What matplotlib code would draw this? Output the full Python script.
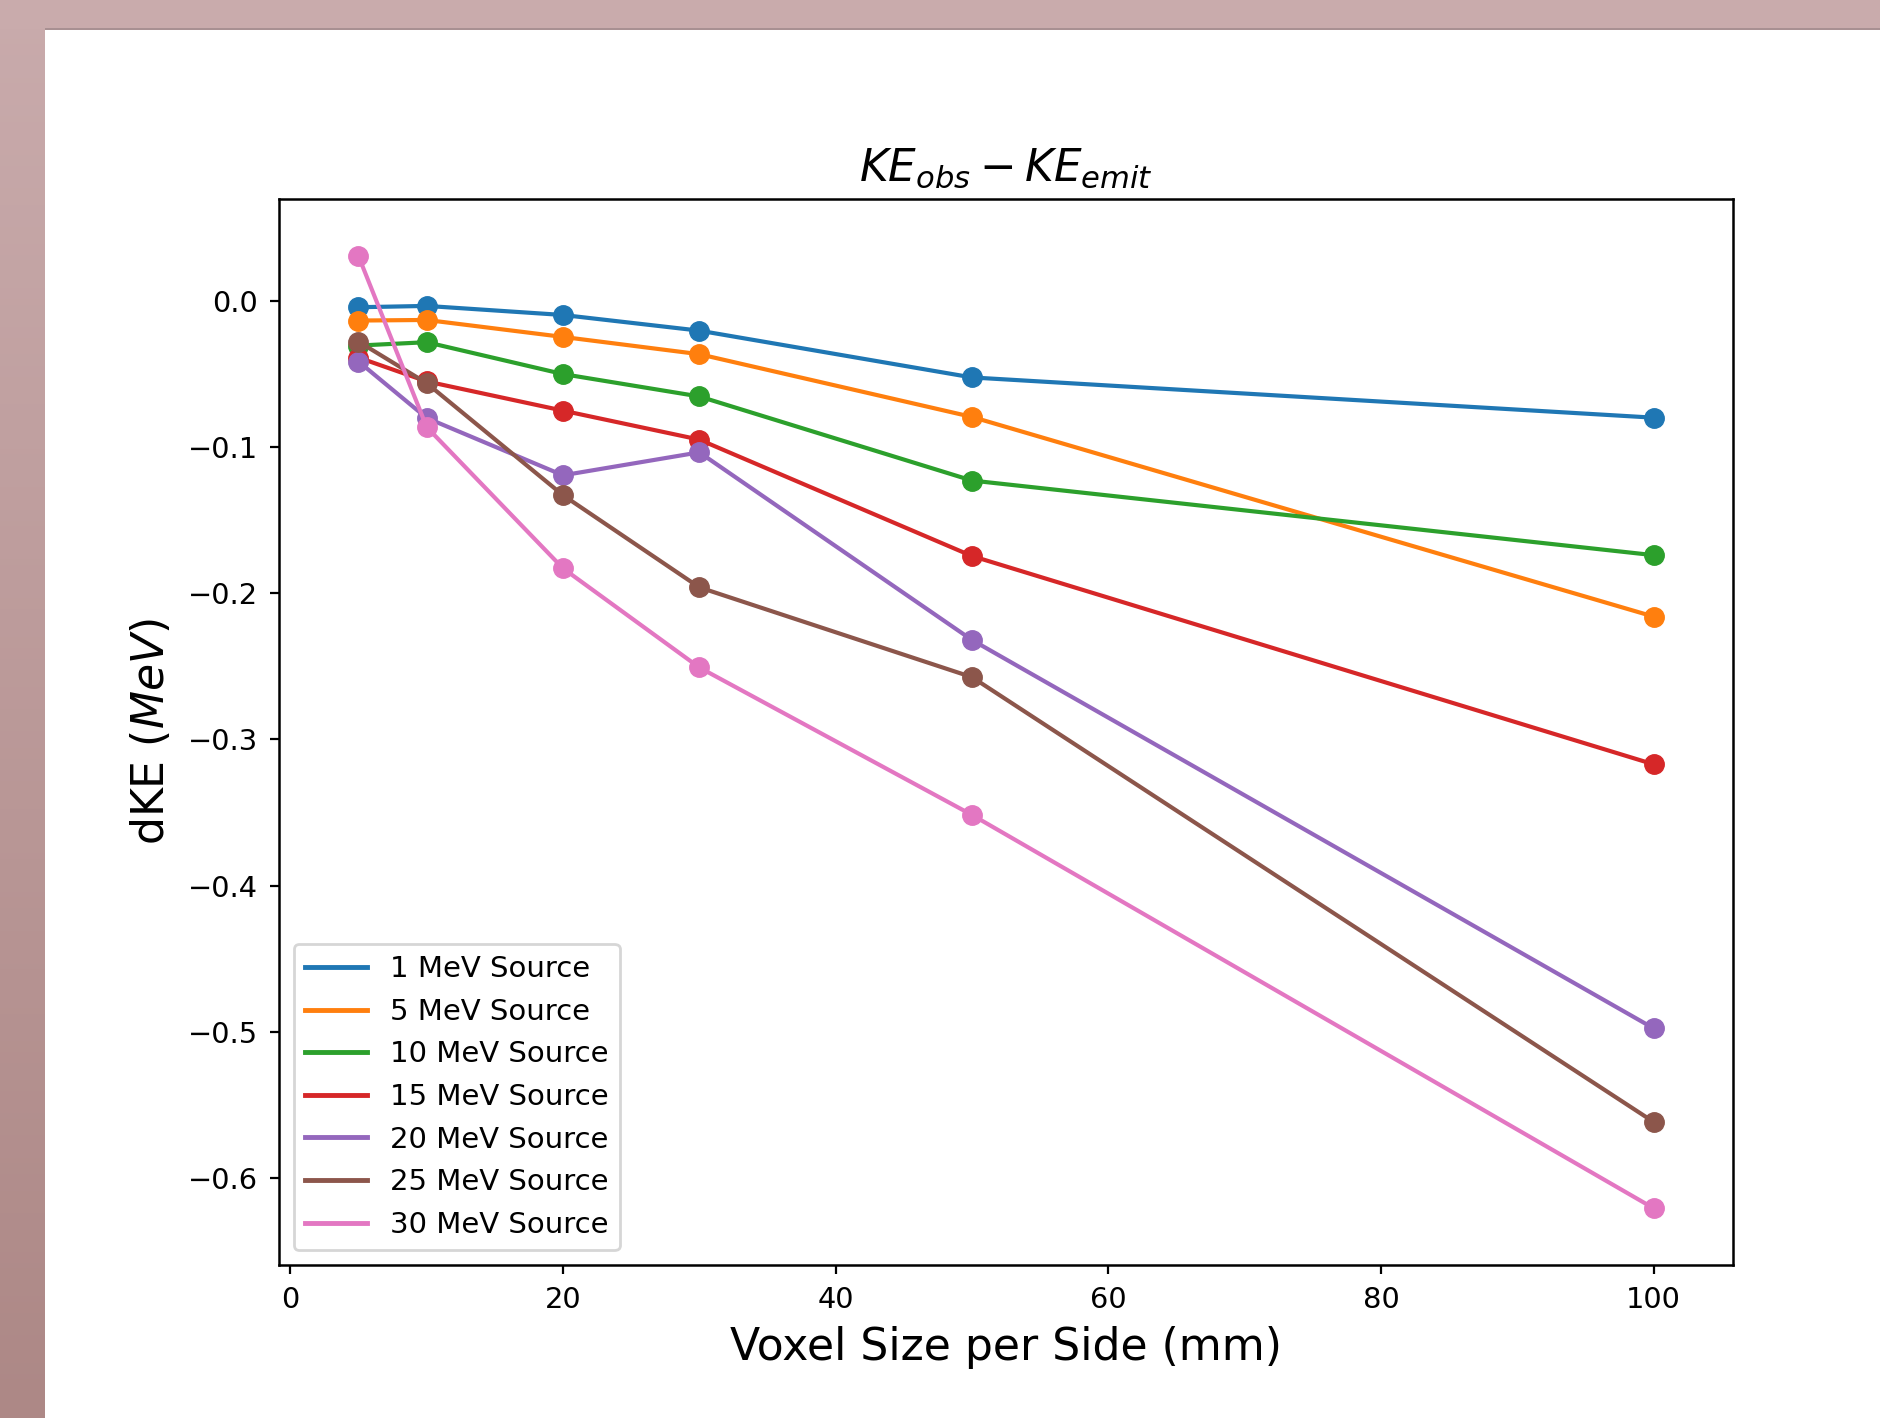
import numpy as np
import matplotlib
matplotlib.use("Agg")
import matplotlib.pyplot as plt
from matplotlib.patches import Rectangle

# ---- data ----
voxel_sizes = [5, 10, 20, 30, 50, 100]
series_labels = ["1 MeV Source", "5 MeV Source", "10 MeV Source", "15 MeV Source",
                 "20 MeV Source", "25 MeV Source", "30 MeV Source"]
dke_1 = [-0.0045, -0.0036, -0.0098, -0.0205, -0.0525, -0.0800]
dke_5 = [-0.0136, -0.0132, -0.0248, -0.0366, -0.0795, -0.2160]
dke_10 = [-0.0307, -0.0284, -0.0502, -0.0655, -0.1230, -0.1740]
dke_15 = [-0.0389, -0.0552, -0.0752, -0.0950, -0.1746, -0.3170]
dke_20 = [-0.0416, -0.0802, -0.1194, -0.1037, -0.2320, -0.4975]
dke_25 = [-0.0280, -0.0564, -0.1330, -0.1960, -0.2574, -0.5615]
dke_30 = [0.0305, -0.0864, -0.1830, -0.2508, -0.3516, -0.6205]
all_series = [dke_1, dke_5, dke_10, dke_15, dke_20, dke_25, dke_30]
colors = ["#1f77b4", "#ff7f0e", "#2ca02c", "#d62728", "#9467bd", "#8c564b", "#e377c2"]

W, H = 1880, 1418
fig = plt.figure(figsize=(W / 100, H / 100), dpi=100)
fig.patch.set_facecolor("white")

# slide-like border (top strip and left gradient strip)
bx = fig.add_axes([0, 0, 45 / W, 1])
grad = np.linspace(0, 1, 256).reshape(-1, 1)
top_c = np.array([0xc9, 0xab, 0xac]) / 255
bot_c = np.array([0xad, 0x88, 0x86]) / 255
img = top_c[None, None, :] * (1 - grad[:, :, None]) + bot_c[None, None, :] * grad[:, :, None]
bx.imshow(img, aspect="auto", extent=[0, 1, 0, 1], origin="upper")
bx.set_axis_off()
fig.patches.append(Rectangle((0, 1 - 29 / H), 1, 29 / H, transform=fig.transFigure,
                             facecolor="#c9abac", edgecolor="none", zorder=5))
fig.patches.append(Rectangle((45 / W, 1 - 30 / H), 1, 1.5 / H, transform=fig.transFigure,
                             facecolor="#a89092", edgecolor="none", zorder=6))

ax = fig.add_axes([279 / W, 1 - 1265 / H, (1733 - 279) / W, (1265 - 199) / H])

for y, c, lab in zip(all_series, colors, series_labels):
    ax.plot(voxel_sizes, y, color=c, lw=3.0, label=lab)
    ax.plot(voxel_sizes, y, "o", color=c, ms=14, mew=1.0)

ax.set_xlim(-0.83, 105.82)
ax.set_ylim(-0.6593, 0.0695)
ax.set_xticks([0, 20, 40, 60, 80, 100])
ax.set_yticks([0.0, -0.1, -0.2, -0.3, -0.4, -0.5, -0.6])
ax.set_yticklabels(["0.0", "\u22120.1", "\u22120.2", "\u22120.3", "\u22120.4", "\u22120.5", "\u22120.6"])
ax.tick_params(labelsize=20.8, length=6.7, width=1.6, pad=8.5)
for s in ax.spines.values():
    s.set_linewidth(1.8)

ax.set_xlabel("Voxel Size per Side (mm)", fontsize=31.8, labelpad=8.5)
ax.set_ylabel("dKE ($MeV$)", fontsize=31.8, labelpad=10.5)
ax.set_title("$KE_{obs} - KE_{emit}$", fontsize=31.5, pad=13)

leg = ax.legend(loc="lower left", fontsize=21.0, handlelength=2.1, framealpha=0.8,
                borderaxespad=0.5)
leg.get_frame().set_linewidth(2.0)
for h in leg.get_lines():
    h.set_linewidth(3.5)

fig.savefig("out.png", dpi=100)
